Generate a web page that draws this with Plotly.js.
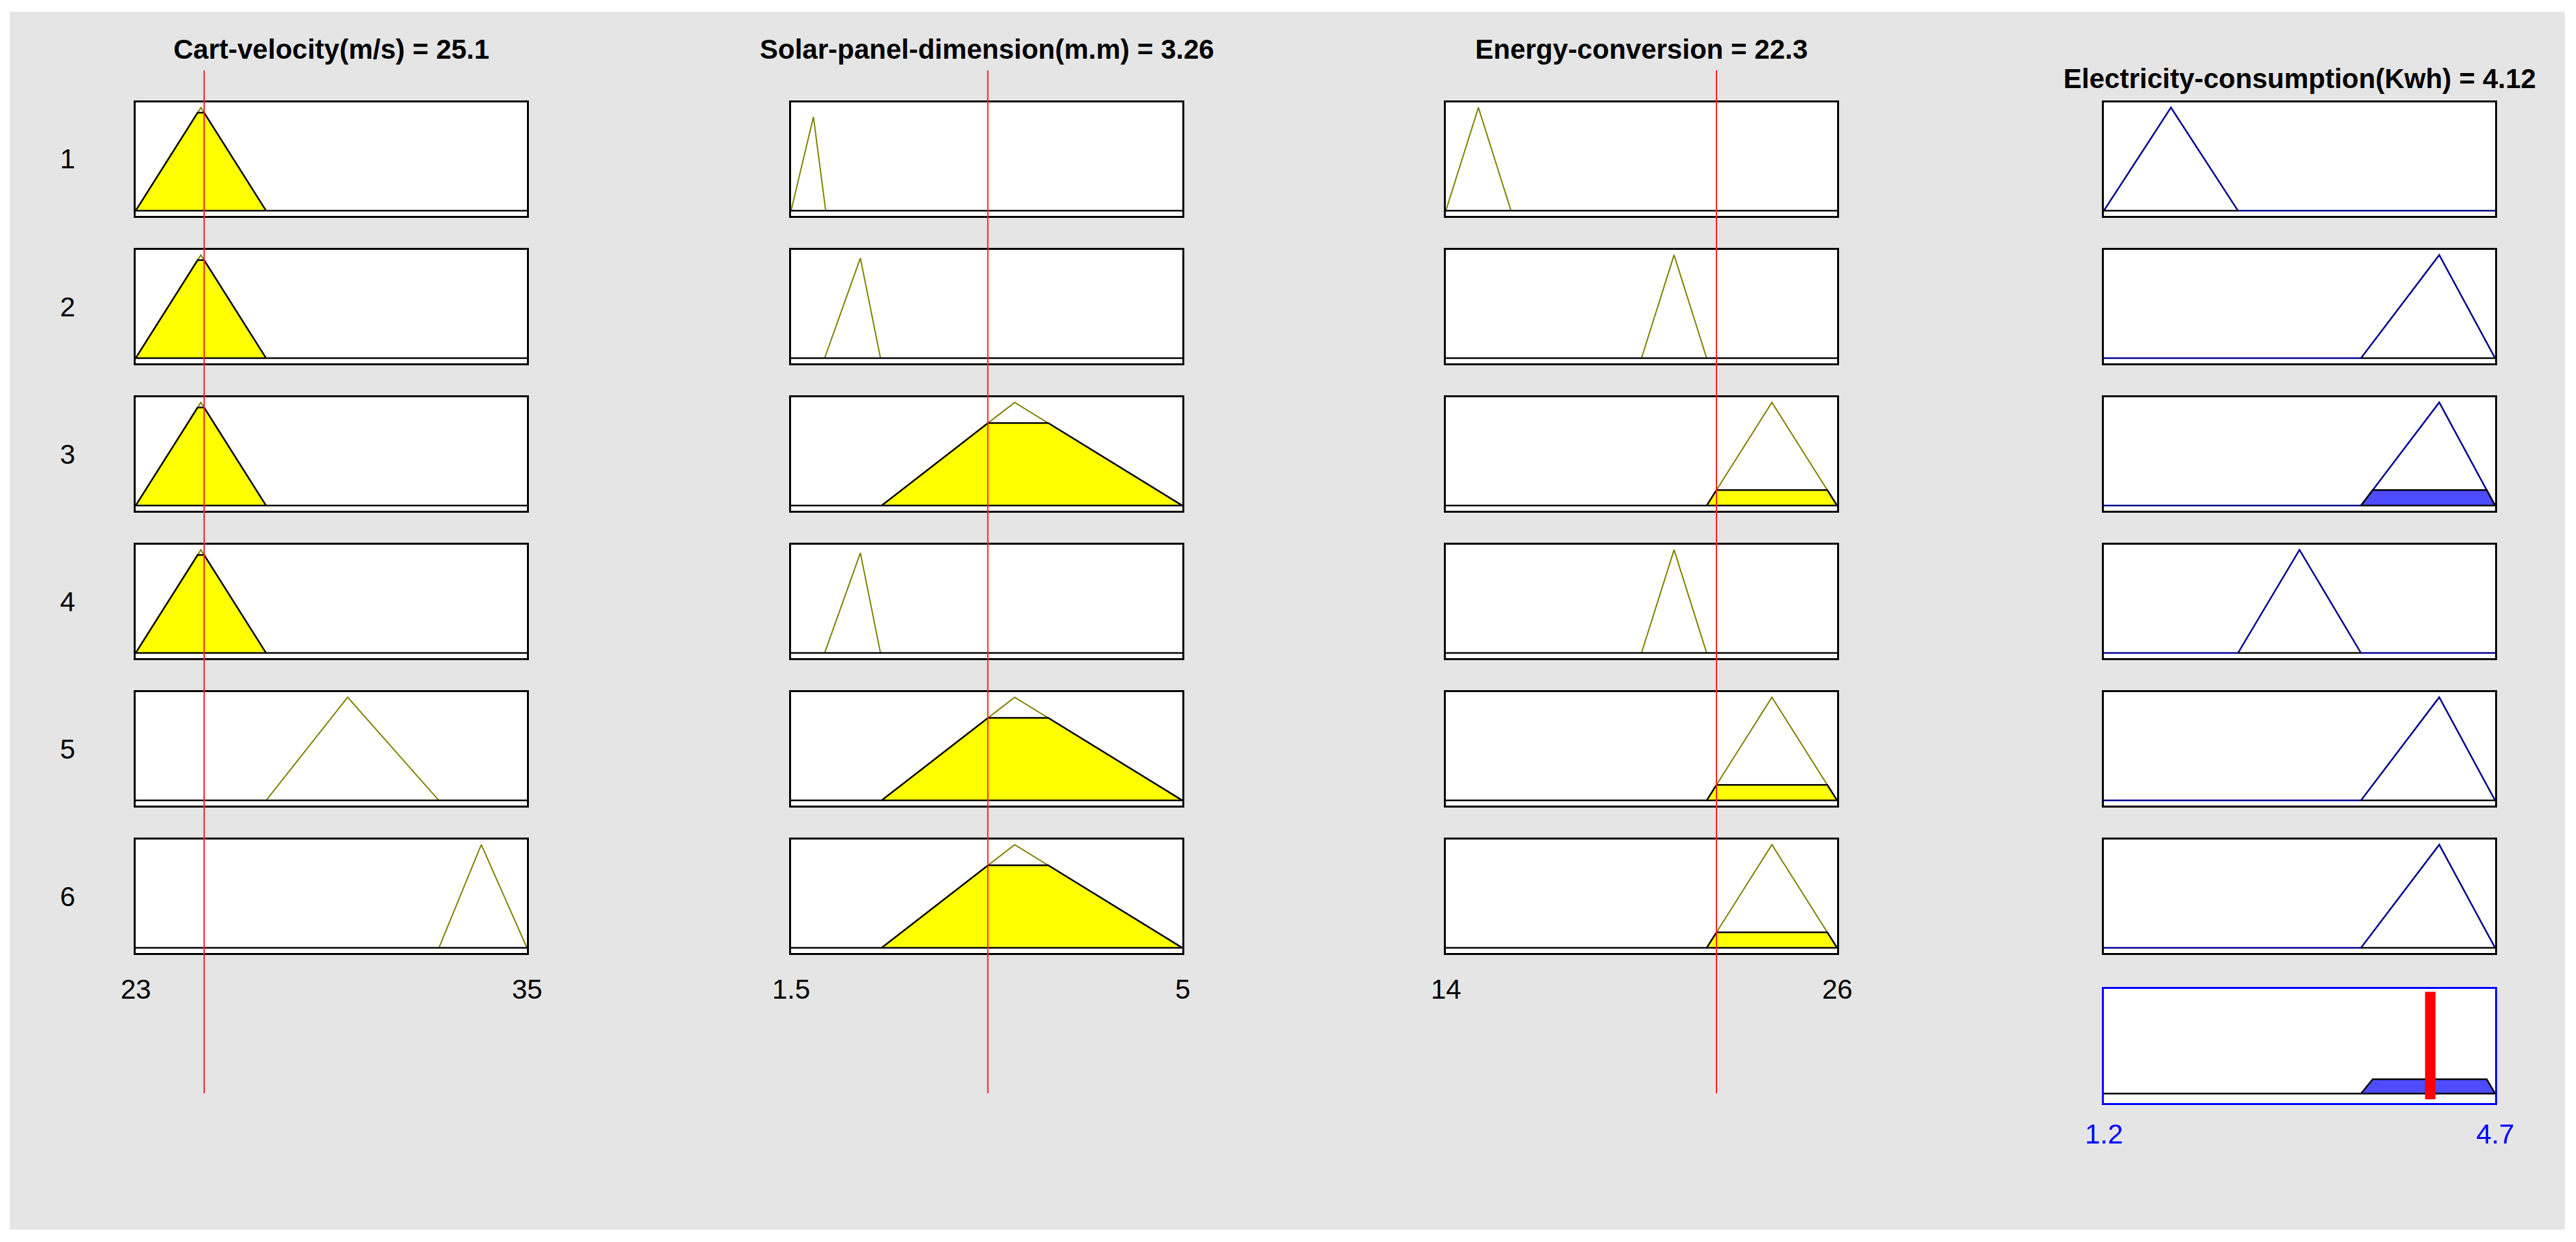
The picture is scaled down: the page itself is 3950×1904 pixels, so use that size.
<!DOCTYPE html>
<html>
<head>
<meta charset="utf-8">
<script src="https://cdn.plot.ly/plotly-3.0.1.min.js"></script>
<style>
  html, body { margin: 0; padding: 0; background: #ffffff; }
  #chart { width: 3950px; height: 1904px; }
</style>
</head>
<body>
<div id="chart"></div>
<script>
// rule viewer values
const inputNames = ['Cart-velocity(m/s)', 'Solar-panel-dimension(m.m)', 'Energy-conversion'];
const inputValues = [25.1, 3.26, 22.3];
const inputRanges = [[23, 35], [1.5, 5], [14, 26]];
const ruleLabels = ['1', '2', '3', '4', '5', '6'];

const cartMF = [[23, 25, 27], [23, 25, 27], [23, 25, 27], [23, 25, 27], [27, 29.5, 32.3], [32.3, 33.6, 35]];
const cartPeak = [1, 1, 1, 1, 1, 1];
const cartFire = [0.95, 0.95, 0.95, 0.95, 0, 0];

const solarMF = [[1.5, 1.7, 1.81], [1.8, 2.12, 2.3], [2.31, 3.5, 5], [1.8, 2.12, 2.3], [2.31, 3.5, 5], [2.31, 3.5, 5]];
const solarPeak = [0.91, 0.97, 1, 0.97, 1, 1];
const solarFire = [0, 0, 0.8, 0, 0.8, 0.8];

const energyMF = [[14, 15, 16], [20, 21, 22], [22, 24, 26], [20, 21, 22], [22, 24, 26], [22, 24, 26]];
const energyPeak = [1, 1, 1, 1, 1, 1];
const energyFire = [0, 0, 0.15, 0, 0.15, 0.15];

const outputName = 'Electricity-consumption(Kwh)';
const outputValue = 4.12;
const outputRange = [1.2, 4.7];
const elecMF = [[1.2, 1.8, 2.4], [3.5, 4.2, 4.7], [3.5, 4.2, 4.7], [2.4, 2.95, 3.5], [3.5, 4.2, 4.7], [3.5, 4.2, 4.7]];
const elecPeak = [1, 1, 1, 1, 1, 1];
const ruleFire = [0, 0, 0.15, 0, 0, 0];

// page geometry (pixels)
const W = 3950, H = 1904;
const colLeft = [208, 1213, 2217, 3226];
const boxW = 600;
const rowTop = [157, 383, 609, 835, 1061, 1287];
const boxH = 174;
const aggTop = 1516, aggH = 175;

const FONT = 'Liberation Sans, Arial, Helvetica, sans-serif';
const OLIVE = '#808000';
const NAVY = '#000090';
const BG = '#e5e5e5';

function py(px) { return 1 - px / H; }
function sfx(n) { return n === 1 ? '' : String(n); }

// thin white frame around the grey figure
function whiteStrip(x0, y0, x1, y1) {
    return {
        type: 'rect', xref: 'paper', yref: 'paper', layer: 'above',
        x0: x0 / W, x1: x1 / W, y0: py(y1), y1: py(y0),
        fillcolor: '#ffffff', line: { width: 0 }
    };
}

const traces = [];
const layout = {
    width: W,
    height: H,
    margin: { l: 0, r: 0, t: 0, b: 0 },
    paper_bgcolor: BG,
    plot_bgcolor: '#ffffff',
    showlegend: false,
    shapes: [
        whiteStrip(0, 0, W, 18),
        whiteStrip(0, 1885, W, H),
        whiteStrip(0, 0, 15, H),
        whiteStrip(3933, 0, W, H)
    ],
    annotations: []
};

function addAxes(n, left, top, h, range, yrange, lineColor) {
    const common = {
        showticklabels: false, showgrid: false, zeroline: false,
        showline: true, mirror: true, linecolor: lineColor, linewidth: 3,
        ticks: '', fixedrange: true
    };
    layout['xaxis' + sfx(n)] = Object.assign({}, common, {
        domain: [left / W, (left + boxW) / W],
        range: range,
        anchor: 'y' + sfx(n)
    });
    layout['yaxis' + sfx(n)] = Object.assign({}, common, {
        domain: [py(top + h), py(top)],
        range: yrange,
        anchor: 'x' + sfx(n)
    });
}

// clipped membership shape: [left foot, left top, right top, right foot]
function clipped(mf, peak, level) {
    const [a, b, c] = mf;
    const h = Math.min(level, peak);
    return {
        x: [a, a + (b - a) * h / peak, c - (c - b) * h / peak, c],
        y: [0, h, h, 0]
    };
}

const inputMF = [cartMF, solarMF, energyMF];
const inputPeak = [cartPeak, solarPeak, energyPeak];
const inputFire = [cartFire, solarFire, energyFire];

// input columns
for (let c = 0; c < 3; c++) {
    const range = inputRanges[c];
    for (let r = 0; r < 6; r++) {
        const n = c * 6 + r + 1;
        addAxes(n, colLeft[c], rowTop[r], boxH, range, [-0.05, 1.05], '#000000');
        const mf = inputMF[c][r];
        const pk = inputPeak[c][r];
        traces.push({
            x: mf, y: [0, pk, 0],
            xaxis: 'x' + sfx(n), yaxis: 'y' + sfx(n),
            type: 'scatter', mode: 'lines',
            line: { color: OLIVE, width: 2 }, hoverinfo: 'skip'
        });
        const cl = clipped(mf, pk, inputFire[c][r]);
        traces.push({
            x: [range[0]].concat(cl.x, [range[1], range[0]]),
            y: [0].concat(cl.y, [0, 0]),
            xaxis: 'x' + sfx(n), yaxis: 'y' + sfx(n),
            type: 'scatter', mode: 'lines', fill: 'toself',
            fillcolor: '#ffff00',
            line: { color: '#000000', width: 2.5 }, hoverinfo: 'skip'
        });
    }
    const first = c * 6 + 1;
    layout.annotations.push({
        xref: 'paper', yref: 'paper',
        x: (colLeft[c] + boxW / 2) / W, y: py(76),
        xanchor: 'center', yanchor: 'middle', showarrow: false,
        text: '<b>' + inputNames[c] + ' = ' + inputValues[c] + '</b>',
        font: { family: FONT, size: 42, color: '#000000' }
    });
    range.forEach(v => {
        layout.annotations.push({
            xref: 'x' + sfx(first), yref: 'paper',
            x: v, y: py(1516),
            xanchor: 'center', yanchor: 'middle', showarrow: false,
            text: String(v),
            font: { family: FONT, size: 42, color: '#000000' }
        });
    });
    layout.shapes.push({
        type: 'line', xref: 'x' + sfx(first), yref: 'paper', layer: 'above',
        x0: inputValues[c], x1: inputValues[c], y0: py(1676), y1: py(108),
        line: { color: '#ff2020', width: 2 }
    });
}

// output column
for (let r = 0; r < 6; r++) {
    const n = 18 + r + 1;
    addAxes(n, colLeft[3], rowTop[r], boxH, outputRange, [-0.05, 1.05], '#000000');
    const mf = elecMF[r];
    const pk = elecPeak[r];
    traces.push({
        x: [outputRange[0], mf[0], mf[1], mf[2], outputRange[1]],
        y: [0, 0, pk, 0, 0],
        xaxis: 'x' + sfx(n), yaxis: 'y' + sfx(n),
        type: 'scatter', mode: 'lines',
        line: { color: NAVY, width: 2.5 }, hoverinfo: 'skip'
    });
    const cl = clipped(mf, pk, ruleFire[r]);
    traces.push({
        x: cl.x.concat([cl.x[0]]), y: cl.y.concat([0]),
        xaxis: 'x' + sfx(n), yaxis: 'y' + sfx(n),
        type: 'scatter', mode: 'lines', fill: 'toself',
        fillcolor: '#4d4dff',
        line: { color: '#000000', width: 2.5 }, hoverinfo: 'skip'
    });
    layout.annotations.push({
        xref: 'paper', yref: 'paper',
        x: 103 / W, y: py(rowTop[r] + boxH / 2),
        xanchor: 'center', yanchor: 'middle', showarrow: false,
        text: ruleLabels[r],
        font: { family: FONT, size: 42, color: '#000000' }
    });
}

// aggregated output
const aggN = 25;
addAxes(aggN, colLeft[3], aggTop, aggH, outputRange, [-0.1, 1.1], '#0000ff');
let best = 0;
ruleFire.forEach((f, i) => { if (f > ruleFire[best]) best = i; });
const agg = clipped(elecMF[best], elecPeak[best], ruleFire[best]);
traces.push({
    x: [outputRange[0]].concat(agg.x, [outputRange[0]]),
    y: [0].concat(agg.y, [0]),
    xaxis: 'x' + sfx(aggN), yaxis: 'y' + sfx(aggN),
    type: 'scatter', mode: 'lines', fill: 'toself',
    fillcolor: '#4d4dff',
    line: { color: '#000000', width: 2.5 }, hoverinfo: 'skip'
});
layout.shapes.push({
    type: 'line', xref: 'x' + sfx(aggN), yref: 'y' + sfx(aggN), layer: 'above',
    x0: outputValue, x1: outputValue, y0: -0.06, y1: 1.07,
    line: { color: '#ff0000', width: 16 }
});
layout.annotations.push({
    xref: 'paper', yref: 'paper',
    x: (colLeft[3] + boxW / 2) / W, y: py(120),
    xanchor: 'center', yanchor: 'middle', showarrow: false,
    text: '<b>' + outputName + ' = ' + outputValue + '</b>',
    font: { family: FONT, size: 42, color: '#000000' }
});
outputRange.forEach(v => {
    layout.annotations.push({
        xref: 'x' + sfx(aggN), yref: 'paper',
        x: v, y: py(1738),
        xanchor: 'center', yanchor: 'middle', showarrow: false,
        text: String(v),
        font: { family: FONT, size: 42, color: '#0000ff' }
    });
});

Plotly.newPlot('chart', traces, layout, { displayModeBar: false, staticPlot: true });
</script>
</body>
</html>
